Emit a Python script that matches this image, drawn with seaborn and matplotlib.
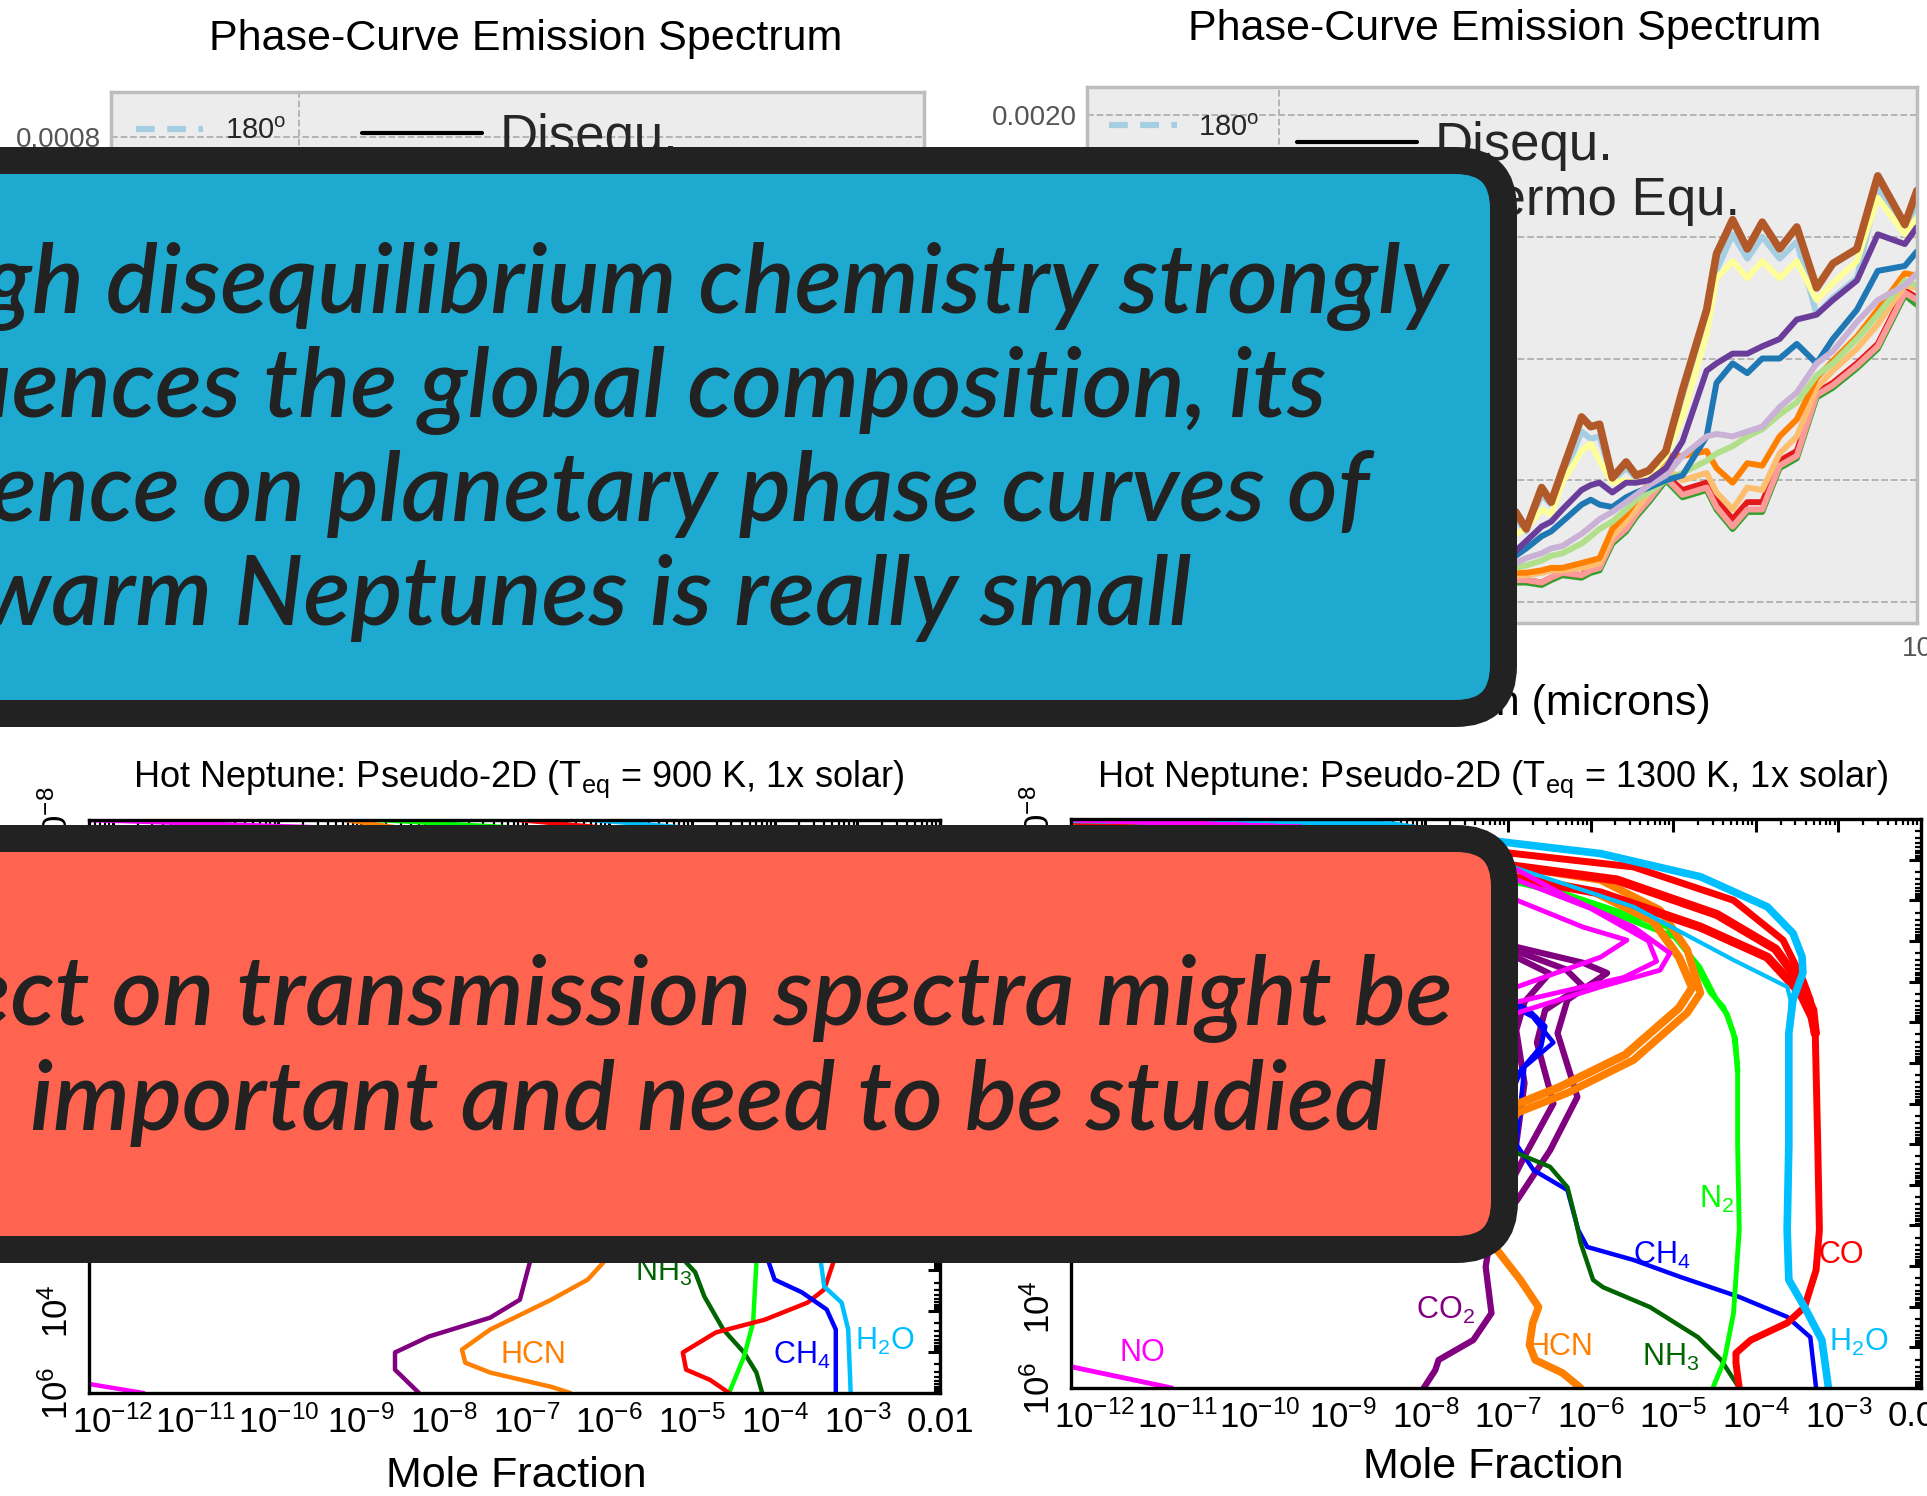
import numpy as np
import pandas as pd
import matplotlib
matplotlib.use("Agg")
import matplotlib.pyplot as plt
import seaborn as sns
from matplotlib.lines import Line2D
from matplotlib.patches import FancyBboxPatch
from matplotlib.ticker import (FixedLocator, FixedFormatter, LogLocator, FuncFormatter,
                               MultipleLocator, NullFormatter)

W, H = 1927, 1496

# ---------------- phase-curve emission spectra (Fp/Fs, units of 1e-3) ----------------
wavelength = [0.6, 1.2, 2.2, 2.35, 2.44, 2.58, 2.67, 2.78, 2.98, 3.08, 3.18, 3.33, 3.50, 3.63, 3.80,
              4.04, 4.29, 4.68, 4.85, 5.14, 5.42, 5.72, 6.09, 6.48, 6.96, 7.38, 8.05, 8.68, 9.57, 10.0]

flux_180 = [0.05, 0.14, 0.28, 0.34, 0.29, 0.44, 0.40, 0.50, 0.70, 0.67, 0.68, 0.50, 0.55, 0.51, 0.53,
            0.60, 0.83, 1.12, 1.36, 1.51, 1.41, 1.50, 1.41, 1.48, 1.18, 1.25, 1.33, 1.70, 1.52, 1.64]
flux_210 = [0.04, 0.11, 0.18, 0.19, 0.22, 0.27, 0.29, 0.33, 0.40, 0.42, 0.40, 0.39, 0.43, 0.45, 0.47,
            0.50, 0.52, 0.68, 0.90, 0.98, 0.94, 1.00, 1.00, 1.06, 0.98, 1.08, 1.20, 1.36, 1.38, 1.44]
flux_240 = [0.03, 0.08, 0.13, 0.14, 0.15, 0.17, 0.19, 0.20, 0.24, 0.27, 0.30, 0.33, 0.38, 0.42, 0.45,
            0.50, 0.53, 0.58, 0.61, 0.64, 0.68, 0.71, 0.77, 0.82, 0.93, 0.98, 1.08, 1.18, 1.32, 1.30]
flux_270 = [0.02, 0.05, 0.07, 0.08, 0.08, 0.07, 0.09, 0.11, 0.10, 0.12, 0.13, 0.24, 0.29, 0.35, 0.41,
            0.50, 0.43, 0.46, 0.38, 0.30, 0.37, 0.37, 0.55, 0.59, 0.84, 0.88, 0.96, 1.04, 1.26, 1.22]
flux_300 = [0.02, 0.06, 0.08, 0.09, 0.09, 0.08, 0.10, 0.12, 0.11, 0.13, 0.14, 0.25, 0.30, 0.36, 0.42,
            0.51, 0.44, 0.47, 0.39, 0.31, 0.38, 0.38, 0.56, 0.60, 0.85, 0.89, 0.97, 1.05, 1.27, 1.24]
flux_330 = [0.02, 0.06, 0.08, 0.09, 0.09, 0.08, 0.10, 0.12, 0.11, 0.14, 0.15, 0.26, 0.31, 0.37, 0.43,
            0.52, 0.46, 0.49, 0.42, 0.34, 0.41, 0.41, 0.58, 0.62, 0.86, 0.90, 0.98, 1.06, 1.28, 1.25]
flux_0 = [0.03, 0.07, 0.10, 0.11, 0.11, 0.12, 0.13, 0.13, 0.14, 0.15, 0.16, 0.27, 0.33, 0.38, 0.45,
          0.55, 0.50, 0.53, 0.45, 0.38, 0.47, 0.46, 0.61, 0.68, 0.88, 0.95, 1.04, 1.14, 1.30, 1.29]
flux_30 = [0.03, 0.07, 0.11, 0.12, 0.12, 0.13, 0.14, 0.14, 0.16, 0.17, 0.18, 0.30, 0.36, 0.42, 0.49,
           0.60, 0.60, 0.62, 0.55, 0.49, 0.57, 0.56, 0.68, 0.75, 0.92, 0.99, 1.09, 1.20, 1.35, 1.34]
flux_60 = [0.03, 0.09, 0.15, 0.16, 0.18, 0.20, 0.22, 0.23, 0.28, 0.31, 0.34, 0.37, 0.41, 0.44, 0.48,
           0.52, 0.60, 0.68, 0.69, 0.68, 0.70, 0.72, 0.80, 0.86, 0.98, 1.03, 1.15, 1.24, 1.30, 1.35]
flux_90 = [0.04, 0.12, 0.20, 0.21, 0.25, 0.31, 0.33, 0.38, 0.46, 0.48, 0.49, 0.45, 0.49, 0.49, 0.50,
           0.55, 0.66, 0.95, 0.98, 1.02, 1.02, 1.05, 1.08, 1.16, 1.18, 1.24, 1.32, 1.51, 1.47, 1.54]
flux_120 = [0.05, 0.13, 0.26, 0.28, 0.30, 0.38, 0.36, 0.49, 0.62, 0.65, 0.58, 0.49, 0.50, 0.49, 0.51,
            0.60, 0.76, 1.10, 1.33, 1.40, 1.33, 1.40, 1.33, 1.40, 1.24, 1.31, 1.40, 1.66, 1.51, 1.58]
flux_150 = [0.05, 0.15, 0.30, 0.37, 0.30, 0.47, 0.41, 0.54, 0.76, 0.72, 0.73, 0.51, 0.575, 0.52, 0.54,
            0.62, 0.87, 1.20, 1.43, 1.57, 1.45, 1.56, 1.45, 1.54, 1.29, 1.39, 1.45, 1.75, 1.55, 1.69]

phase_names = ["180", "210", "240", "270", "300", "330", "0", "30", "60", "90", "120", "150"]
phase_flux = [flux_180, flux_210, flux_240, flux_270, flux_300, flux_330,
              flux_0, flux_30, flux_60, flux_90, flux_120, flux_150]
draw_order = ["270", "330", "300", "0", "30", "240", "210", "60", "180", "120", "90", "150"]

# ---------------- pseudo-2D abundance profiles: log10(p / bar), log10(mole fraction) ----------------
no_900_p = [-8.0, -7.8, -5.0, -2.0, 1.0, 5.0, 5.78, 6.0]
no_900_x = [-12.3, -9.2, -8.5, -9.5, -13.0, -13.5, -12.29, -11.63]
co2_900_p = [-8.0, -6.0, -3.0, 0.0, 2.0, 2.81, 3.72, 4.16, 4.62, 5.01, 5.43, 6.0]
co2_900_x = [-13.0, -8.0, -7.0, -7.0, -6.9, -6.96, -7.08, -7.44, -8.18, -8.59, -8.59, -8.30]
hcn_900_p = [-8.0, -7.8, -5.0, -2.0, 1.0, 2.81, 3.23, 3.72, 4.45, 4.94, 5.26, 5.50, 5.85, 6.0]
hcn_900_x = [-9.2, -8.5, -6.0, -5.5, -6.0, -6.07, -6.26, -6.70, -7.44, -7.78, -7.74, -7.44, -6.70, -6.47]
nh3_900_p = [-8.0, -5.0, -2.0, 1.0, 2.81, 3.05, 3.64, 4.45, 5.01, 5.50, 6.0]
nh3_900_x = [-13.0, -8.0, -6.0, -5.3, -5.07, -4.96, -4.85, -4.62, -4.37, -4.22, -4.15]
n2_900_p = [-8.0, -7.8, -5.0, -2.0, 1.0, 2.81, 4.28, 5.11, 6.0]
n2_900_x = [-8.8, -7.0, -5.0, -4.3, -4.2, -4.22, -4.26, -4.37, -4.55]
co_900_p = [-8.0, -7.8, -5.0, -2.0, 1.0, 2.81, 3.47, 3.79, 4.21, 4.52, 5.01, 5.43, 5.68, 6.0]
co_900_x = [-7.1, -6.0, -4.0, -3.4, -3.3, -3.29, -3.40, -3.60, -4.12, -4.71, -5.11, -5.07, -4.78, -4.55]
ch4_900_p = [-8.0, -5.0, -2.0, 1.0, 2.81, 3.23, 3.54, 3.96, 4.45, 6.0]
ch4_900_x = [-13.0, -6.5, -5.0, -4.2, -4.07, -4.00, -3.67, -3.37, -3.26, -3.26]
h2o_900_p = [-8.0, -7.8, -5.0, -2.0, 1.0, 2.81, 3.40, 3.79, 4.45, 6.0]
h2o_900_x = [-6.2, -5.0, -3.6, -3.4, -3.45, -3.44, -3.40, -3.19, -3.11, -3.08]

co2_1300_p = [-8.0, -6.0, -4.9, -4.46, -4.21, -3.55, -2.73, -1.16, 0.15, 1.38, 2.11, 3.02, 4.16, 4.82, 5.31, 5.56, 6.0]
co2_1300_x = [-13.0, -9.0, -7.0, -6.09, -5.80, -6.28, -6.40, -6.16, -6.49, -6.89, -7.20, -7.27, -7.20, -7.42, -7.84, -7.88, -8.02]
co2_1300b_p = [-8.0, -6.0, -4.9, -4.3, -3.9, -3.3, -2.5, -1.0, 0.3, 1.5, 2.11]
co2_1300b_x = [-13.0, -9.0, -7.1, -6.3, -6.1, -6.55, -6.65, -6.45, -6.8, -7.1, -7.20]
co2_1300c_p = [-8.0, -6.0, -4.9, -4.2, -3.5, -2.8, -1.5, 0.0, 1.2, 2.11]
co2_1300c_x = [-13.0, -9.0, -7.2, -6.5, -6.8, -6.9, -6.8, -6.9, -7.0, -7.2]
ch4_1300_p = [-8.0, -6.0, -4.0, -3.13, -2.5, -1.90, 0.0, 0.64, 1.13, 2.11, 2.53, 2.85, 3.27, 3.76, 4.25, 4.75, 6.0]
ch4_1300_x = [-13.0, -9.0, -7.5, -6.7, -6.45, -6.8, -6.9, -6.69, -6.28, -6.15, -6.04, -5.48, -4.91, -4.20, -3.62, -3.34, -3.27]
ch4_1300b_p = [-4.0, -3.3, -2.9, -2.4, -1.8, -1.0, 0.0]
ch4_1300b_x = [-7.5, -6.75, -6.55, -6.6, -6.85, -7.0, -6.9]
nh3_1300_p = [-8.0, -5.0, -2.0, 0.22, 0.56, 1.06, 1.87, 2.43, 3.34, 3.52, 4.01, 4.75, 5.31, 6.0]
nh3_1300_x = [-13.0, -9.0, -7.5, -6.89, -6.49, -6.28, -6.18, -6.12, -5.97, -5.85, -5.28, -4.70, -4.42, -4.20]
n2_1300_p = [-8.0, -7.75, -6.42, -5.34, -4.53, -3.72, -3.38, -2.73, -1.90, 0.0, 2.11, 4.16, 5.31, 6.0]
n2_1300_x = [-12.5, -9.5, -6.69, -5.07, -4.76, -4.55, -4.39, -4.27, -4.22, -4.22, -4.20, -4.27, -4.38, -4.52]
n2_1300b_p = [-8.0, -7.7, -6.2, -5.1, -4.35, -3.6, -3.2, -2.6, -1.8]
n2_1300b_x = [-12.5, -9.5, -6.4, -4.98, -4.68, -4.49, -4.35, -4.25, -4.22]
hcn_1300_p = [-8.0, -7.7, -6.82, -6.50, -5.76, -4.78, -3.72, -3.23, -2.07, -1.26, -0.77, 1.0, 2.61,
              3.34, 4.01, 4.40, 4.94, 5.31, 5.63, 6.0]
hcn_1300_x = [-12.5, -9.5, -6.89, -5.88, -5.16, -4.83, -4.67, -4.83, -5.48, -6.28, -6.89, -7.3, -7.13,
              -6.85, -6.63, -6.70, -6.74, -6.67, -6.34, -6.12]
hcn_1300b_p = [-8.0, -7.6, -6.6, -6.2, -5.5, -4.6, -3.85, -3.35, -2.2, -1.4, -0.9, 0.5]
hcn_1300b_x = [-12.5, -9.5, -6.89, -5.95, -5.25, -4.93, -4.77, -4.93, -5.58, -6.38, -6.99, -7.3]
co_1300_p = [-8.0, -7.8, -7.16, -6.82, -6.0, -5.02, -4.04, -3.55, -2.73, 0.0, 2.11, 3.10, 4.01, 4.40,
             4.82, 5.14, 5.39, 6.0]
co_1300_x = [-12.5, -9.0, -6.97, -5.48, -4.27, -3.67, -3.43, -3.34, -3.28, -3.25, -3.23, -3.27, -3.41,
             -3.62, -4.06, -4.24, -4.24, -4.20]
co_1300b_p = [-8.0, -7.7, -6.85, -6.5, -5.65, -4.8, -3.9, -3.3, -2.73]
co_1300b_x = [-12.5, -9.0, -6.97, -5.68, -4.47, -3.76, -3.44, -3.31, -3.28]
co_1300c_p = [-8.0, -7.6, -6.57, -6.18, -5.34, -4.60, -3.72, -3.13, -2.73]
co_1300c_x = [-12.5, -9.0, -6.97, -5.88, -4.67, -3.86, -3.46, -3.32, -3.28]
h2o_1300_p = [-8.0, -7.85, -7.44, -7.15, -6.58, -5.84, -5.19, -4.61, -4.21, -3.55, -2.73, 0.0, 2.11,
              3.34, 4.01, 4.82, 6.0]
h2o_1300_x = [-12.5, -8.4, -7.09, -5.88, -4.67, -3.86, -3.55, -3.44, -3.43, -3.55, -3.60, -3.60, -3.62,
              -3.60, -3.41, -3.20, -3.12]
h2o_1300b_p = [-8.0, -7.8, -6.92, -5.84, -4.53, -3.87, -3.55, -2.73]
h2o_1300b_x = [-12.5, -8.8, -7.09, -5.48, -4.27, -3.62, -3.58, -3.60]
no_1300_p = [-8.0, -7.8, -6.75, -6.08, -5.34, -4.70, -4.28, -3.87, -3.23, -2.0, 1.0, 5.0, 5.48, 6.0]
no_1300_x = [-12.5, -9.5, -6.89, -6.28, -5.48, -5.04, -5.16, -5.88, -6.89, -9.0, -13.0, -13.5, -12.28, -11.07]
no_1300b_p = [-8.0, -7.8, -6.0, -5.34, -5.02, -4.60, -3.87, -3.0]
no_1300b_x = [-12.5, -9.5, -6.89, -6.09, -5.56, -5.88, -6.89, -8.0]
no_1300c_p = [-8.0, -7.8, -6.5, -5.8, -5.0, -4.5, -4.1, -3.5]
no_1300c_x = [-12.5, -9.5, -6.89, -6.0, -5.3, -5.2, -5.6, -6.89]

# species labels (log10 mole fraction, log10 pressure)
labels_900 = ["NH$_3$", "HCN", "CH$_4$", "H$_2$O"]
labels_900_x = [-5.34, -6.92, -3.67, -2.67]
labels_900_p = [3.05, 5.08, 5.08, 4.74]
labels_1300 = ["NO", "CO$_2$", "HCN", "NH$_3$", "CH$_4$", "CO", "H$_2$O", "N$_2$"]
labels_1300_x = [-11.42, -7.76, -6.37, -5.03, -5.14, -2.96, -2.75, -4.47]
labels_1300_p = [5.14, 4.08, 4.99, 5.24, 2.75, 2.73, 4.87, 1.37]

mole_ticks = [1e-12, 1e-11, 1e-10, 1e-9, 1e-8, 1e-7, 1e-6, 1e-5, 1e-4, 1e-3, 1e-2]
mole_tick_labels = ["$10^{-12}$", "$10^{-11}$", "$10^{-10}$", "$10^{-9}$", "$10^{-8}$", "$10^{-7}$",
                    "$10^{-6}$", "$10^{-5}$", "$10^{-4}$", "$10^{-3}$", "0.01"]

blue_lines = ["Although disequilibrium chemistry strongly", "influences the global composition, its",
              "influence on planetary phase curves of", "warm Neptunes is really small"]
red_lines = ["Its effect on transmission spectra might be", "important and need to be studied"]

# ---------------- style ----------------
sns.set_theme(style="white")
plt.rcParams["font.family"] = ["Liberation Sans", "DejaVu Sans"]
plt.rcParams["mathtext.fontset"] = "custom"
plt.rcParams["mathtext.rm"] = "Liberation Sans"
plt.rcParams["mathtext.it"] = "Liberation Sans:italic"
plt.rcParams["mathtext.bf"] = "Liberation Sans:bold"

paired = sns.color_palette("Paired", 12)
phase_colors = dict(zip(phase_names, paired))
phase_widths = {p: (5.5 if p == "150" else 4.3) for p in phase_names}

C = {"NO": "#ff00ff", "CO2": "#800080", "HCN": "#ff8000", "NH3": "#006400", "N2": "#00ff00",
     "CO": "#ff0000", "CH4": "#0000ff", "H2O": "#00bfff"}

fig = plt.figure(figsize=(W / 100, H / 100), dpi=100)


def px_rect(x0, y0, x1, y1):
    return [x0 / W, 1 - y1 / H, (x1 - x0) / W, (y1 - y0) / H]


def px_text(x, y, s, **kw):
    fig.text(x / W, 1 - y / H, s, ha="center", va="center", **kw)


ax_tl = fig.add_axes(px_rect(111, 92, 924, 624))
ax_tr = fig.add_axes(px_rect(1087, 87, 1917, 623))
ax_bl = fig.add_axes(px_rect(89, 820, 940, 1393))
ax_br = fig.add_axes(px_rect(1071, 819, 1921, 1388))

# ---- spectra ----
spec = pd.concat([pd.DataFrame({"wavelength": wavelength, "flux": np.array(f) * 1e-3, "phase": p})
                  for p, f in zip(phase_names, phase_flux)], ignore_index=True)
sns.lineplot(data=spec, x="wavelength", y="flux", hue="phase", hue_order=draw_order,
             palette=phase_colors, size="phase", sizes=phase_widths, estimator=None,
             sort=False, legend=False, ax=ax_tr)


def style_spectrum(ax, ylim, ystep, leg1_xy, leg2_xy):
    ax.set_facecolor("#ececec")
    ax.set_xscale("log")
    ax.set_xlim(0.5, 10)
    ax.set_ylim(*ylim)
    ax.set_xlabel("")
    ax.set_ylabel("")
    ax.yaxis.set_major_locator(MultipleLocator(ystep))
    ax.yaxis.set_major_formatter(FuncFormatter(lambda v, _: f"{v:.4f}"))
    ax.xaxis.set_major_locator(FixedLocator([1, 10]))
    ax.xaxis.set_major_formatter(FixedFormatter(["1", "10"]))
    ax.xaxis.set_minor_locator(LogLocator(base=10, subs=np.arange(2, 10)))
    ax.xaxis.set_minor_formatter(NullFormatter())
    ax.grid(True, which="major", color="#b0b0b0", ls="--", lw=1.3)
    ax.set_axisbelow(True)
    for s in ax.spines.values():
        s.set_color("#bdbdbd")
        s.set_linewidth(2.5)
    ax.tick_params(axis="both", colors="#555555", labelsize=20)
    ax.tick_params(axis="x", which="both", direction="in", length=5, pad=9)
    ax.tick_params(axis="y", direction="out", length=4, pad=3)
    h1 = [Line2D([], [], color=phase_colors[p], lw=4.5, dashes=(3, 2)) for p in phase_names]
    l1 = [p + r"$^\mathrm{o}$" for p in phase_names]
    leg1 = ax.legend(h1, l1, loc="upper left", bbox_to_anchor=leg1_xy, frameon=False, fontsize=21,
                     handlelength=2.3, handletextpad=0.75, borderaxespad=0)
    ax.add_artist(leg1)
    h2 = [Line2D([], [], color="black", lw=3), Line2D([], [], color="black", lw=3, ls="--")]
    ax.legend(h2, ["Disequ.", "Thermo Equ."], loc="upper left", bbox_to_anchor=leg2_xy,
              frameon=False, fontsize=38, handlelength=2.27, handletextpad=0.34,
              labelspacing=0.1, borderaxespad=0)


style_spectrum(ax_tl, (-0.0000378, 0.000877), 0.0002, (0.016, 0.975), (0.283, 1.001))
style_spectrum(ax_tr, (-0.0000862, 0.002115), 0.0005, (0.013, 0.972), (0.228, 0.976))

px_text(526, 39, "Phase-Curve Emission Spectrum", fontsize=31, color="black")
px_text(1505, 29, "Phase-Curve Emission Spectrum", fontsize=31, color="black")
px_text(517, 704, "Wavelength (microns)", fontsize=31, color="black")
px_text(1502, 704, "Wavelength (microns)", fontsize=31, color="black")


# ---- abundance profiles ----
def draw_profile(ax, logp, logx, color, lw=2.8):
    sns.lineplot(x=np.power(10.0, logx), y=np.power(10.0, logp), color=color, linewidth=lw,
                 estimator=None, sort=False, ax=ax)


def pressure_label(v, _):
    e = int(round(np.log10(v)))
    return f"$10^{{{e}}}$" if e % 2 == 0 else ""


def style_profile(ax):
    ax.set_xscale("log")
    ax.set_yscale("log")
    ax.set_xlim(10 ** -12.29, 1e-2)
    ax.set_ylim(1e6, 1e-8)
    ax.set_xlabel("")
    ax.set_ylabel("")
    ax.xaxis.set_major_locator(FixedLocator(mole_ticks))
    ax.xaxis.set_major_formatter(FixedFormatter(mole_tick_labels))
    ax.xaxis.set_minor_locator(LogLocator(base=10, subs=np.arange(2, 10), numticks=40))
    ax.xaxis.set_minor_formatter(NullFormatter())
    ax.yaxis.set_major_locator(LogLocator(base=10, numticks=40))
    ax.yaxis.set_major_formatter(FuncFormatter(pressure_label))
    ax.yaxis.set_minor_locator(LogLocator(base=10, subs=np.arange(2, 10), numticks=40))
    ax.yaxis.set_minor_formatter(NullFormatter())
    for s in ax.spines.values():
        s.set_color("black")
        s.set_linewidth(2.4)
    ax.tick_params(which="both", direction="in", top=True, right=True, colors="black")
    ax.tick_params(which="major", length=9, width=2.2, labelsize=25)
    ax.tick_params(which="minor", length=4.5, width=1.6)
    ax.tick_params(axis="x", pad=9)
    ax.tick_params(axis="y", labelrotation=90, pad=10)
    for lab in ax.get_yticklabels():
        lab.set_verticalalignment("center")


for p, x, c in [(no_900_p, no_900_x, "NO"), (co2_900_p, co2_900_x, "CO2"),
                (hcn_900_p, hcn_900_x, "HCN"), (nh3_900_p, nh3_900_x, "NH3"),
                (n2_900_p, n2_900_x, "N2"), (co_900_p, co_900_x, "CO"),
                (ch4_900_p, ch4_900_x, "CH4"), (h2o_900_p, h2o_900_x, "H2O")]:
    draw_profile(ax_bl, p, x, C[c], 3.2)

for p, x, c, lw in [(co2_1300c_p, co2_1300c_x, "CO2", 4.5), (co2_1300b_p, co2_1300b_x, "CO2", 4.5),
                    (co2_1300_p, co2_1300_x, "CO2", 4.5),
                    (ch4_1300b_p, ch4_1300b_x, "CH4", 3.5), (ch4_1300_p, ch4_1300_x, "CH4", 3.2),
                    (nh3_1300_p, nh3_1300_x, "NH3", 3.2),
                    (n2_1300b_p, n2_1300b_x, "N2", 4.0), (n2_1300_p, n2_1300_x, "N2", 3.5),
                    (hcn_1300b_p, hcn_1300b_x, "HCN", 6.0), (hcn_1300_p, hcn_1300_x, "HCN", 5.5),
                    (co_1300c_p, co_1300c_x, "CO", 6.5), (co_1300b_p, co_1300b_x, "CO", 6.5),
                    (co_1300_p, co_1300_x, "CO", 5.0),
                    (h2o_1300b_p, h2o_1300b_x, "H2O", 3.0), (h2o_1300_p, h2o_1300_x, "H2O", 5.5),
                    (no_1300c_p, no_1300c_x, "NO", 3.5), (no_1300b_p, no_1300b_x, "NO", 3.5),
                    (no_1300_p, no_1300_x, "NO", 3.5)]:
    draw_profile(ax_br, p, x, C[c], lw)

style_profile(ax_bl)
style_profile(ax_br)

label_keys_900 = ["NH3", "HCN", "CH4", "H2O"]
for s, k, lx, lp in zip(labels_900, label_keys_900, labels_900_x, labels_900_p):
    ax_bl.text(10 ** lx, 10 ** lp, s, color=C[k], fontsize=22, ha="center", va="center")
label_keys_1300 = ["NO", "CO2", "HCN", "NH3", "CH4", "CO", "H2O", "N2"]
for s, k, lx, lp in zip(labels_1300, label_keys_1300, labels_1300_x, labels_1300_p):
    ax_br.text(10 ** lx, 10 ** lp, s, color=C[k], fontsize=22, ha="center", va="center")

px_text(519, 779, "Hot Neptune: Pseudo-2D (T$_{\\rm eq}$ = 900 K, 1x solar)", fontsize=26, color="black")
px_text(1493, 779, "Hot Neptune: Pseudo-2D (T$_{\\rm eq}$ = 1300 K, 1x solar)", fontsize=26, color="black")
px_text(516, 1476, "Mole Fraction", fontsize=31, color="black")
px_text(1493, 1467, "Mole Fraction", fontsize=31, color="black")

# ---- message boxes on top ----
ov = fig.add_axes([0, 0, 1, 1], zorder=10)
ov.set_xlim(0, W)
ov.set_ylim(H, 0)
ov.axis("off")
border = 27
for (x_right, y_top, y_bottom, face) in [(1517, 147, 727, "#1da9d0"), (1518, 825, 1263, "#ff6450")]:
    ov.add_patch(FancyBboxPatch((-200, y_top + border / 2), x_right - border / 2 + 200,
                                y_bottom - y_top - border, boxstyle="round,pad=0,rounding_size=48",
                                facecolor=face, edgecolor="#222222", linewidth=border * 0.72))

text_kw = dict(ha="right", va="baseline", fontsize=70, fontstyle="italic", fontweight="semibold",
               family=["Lato", "DejaVu Sans"], color="#222222")
for line, xr, yb in zip(blue_lines, [1448, 1327, 1370, 1192], [313, 417, 521, 625]):
    ov.text(xr, yb, line, **text_kw)
for line, xr, yb in zip(red_lines, [1453, 1386], [1025, 1130]):
    ov.text(xr, yb, line, **text_kw)

fig.savefig("out.png", dpi=100)
